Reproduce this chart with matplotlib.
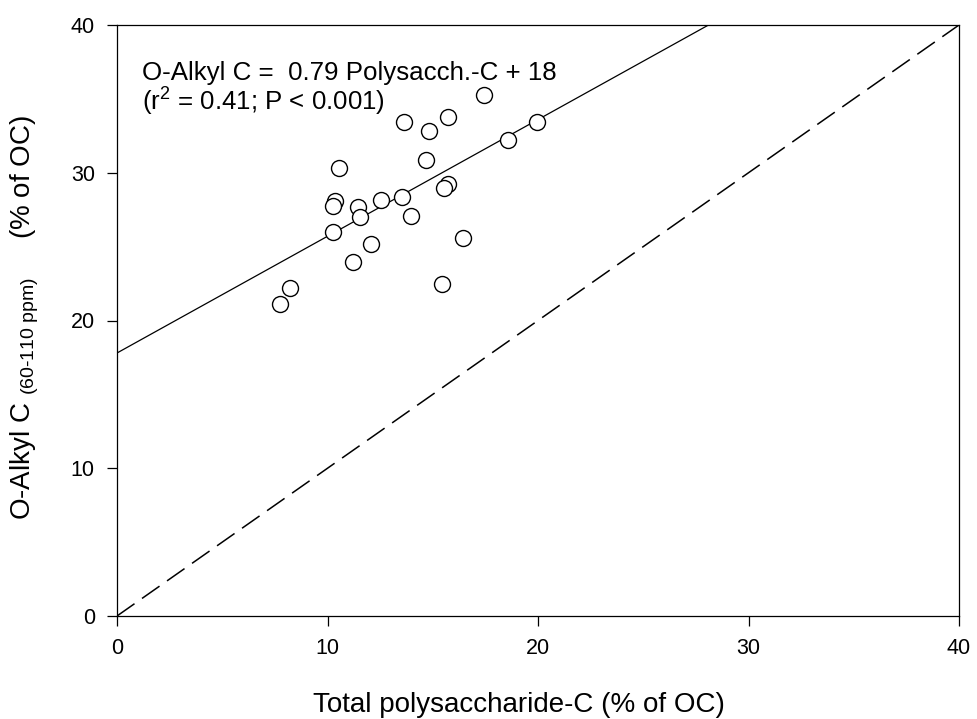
import numpy as np
import matplotlib
matplotlib.use("Agg")
import matplotlib.pyplot as plt

plt.rcParams['font.family'] = ['Liberation Sans', 'DejaVu Sans']
plt.rcParams['mathtext.fontset'] = 'custom'
plt.rcParams['mathtext.rm'] = 'Liberation Sans'
plt.rcParams['mathtext.it'] = 'Liberation Sans:italic'

# total polysaccharide-C vs O-alkyl C, both in % of OC
polysacch = [17.45, 13.65, 14.84, 15.74, 19.97, 18.56, 14.67, 10.55,
             10.36, 10.25, 11.46, 12.54, 13.55, 15.74, 15.52, 11.54,
             13.95, 10.25, 12.05, 16.45, 11.23, 15.45, 8.23, 7.74]
o_alkyl = [35.25, 33.45, 32.84, 33.74, 33.45, 32.2, 30.85, 30.33,
           28.1, 27.74, 27.7, 28.15, 28.37, 29.23, 28.94, 27.02,
           27.06, 26.0, 25.15, 25.55, 23.93, 22.44, 22.21, 21.15]

# regression
slope = 0.79
intercept = 17.8
r2 = 0.41

fig = plt.figure(figsize=(9.77, 7.19), dpi=100)
ax = fig.add_axes([117/977, 1 - 616/719, 842/977, 591/719])

xx = np.array([0, 40])
ax.plot(xx, intercept + slope * xx, color='black', lw=0.9)
ax.plot(xx, xx, color='black', lw=1.1, dashes=(14, 6))
ax.plot(polysacch, o_alkyl, 'o', ms=11.5, mfc='white', mec='black', mew=1.0)

ax.set_xlim(0, 40)
ax.set_ylim(0, 40)
ax.set_xticks([0, 10, 20, 30, 40])
ax.set_yticks([0, 10, 20, 30, 40])
ax.tick_params(direction='out', length=7, width=0.9, labelsize=15.5, pad=9)
for s in ax.spines.values():
    s.set_linewidth(0.9)

ax.text(1.19, 36.27, f'O-Alkyl C =  {slope:.2f} Polysacch.-C + {intercept:.0f}',
        fontsize=18.6, va='baseline', ha='left')
ax.text(1.19, 34.24, f'(r$^2$ = {r2:.2f}; P < 0.001)',
        fontsize=18.6, va='baseline', ha='left')

fig.text(519/977, 1 - 712/719, 'Total polysaccharide-C (% of OC)',
         fontsize=20, ha='center', va='baseline')
fig.text(25/977, 1 - 318/719,
         r'O-Alkyl C $_{\mathregular{(60\text{-}110\ ppm)}}$     (% of OC)',
         fontsize=20, ha='center', va='center', rotation=90)

fig.savefig('out.png', dpi=100)
